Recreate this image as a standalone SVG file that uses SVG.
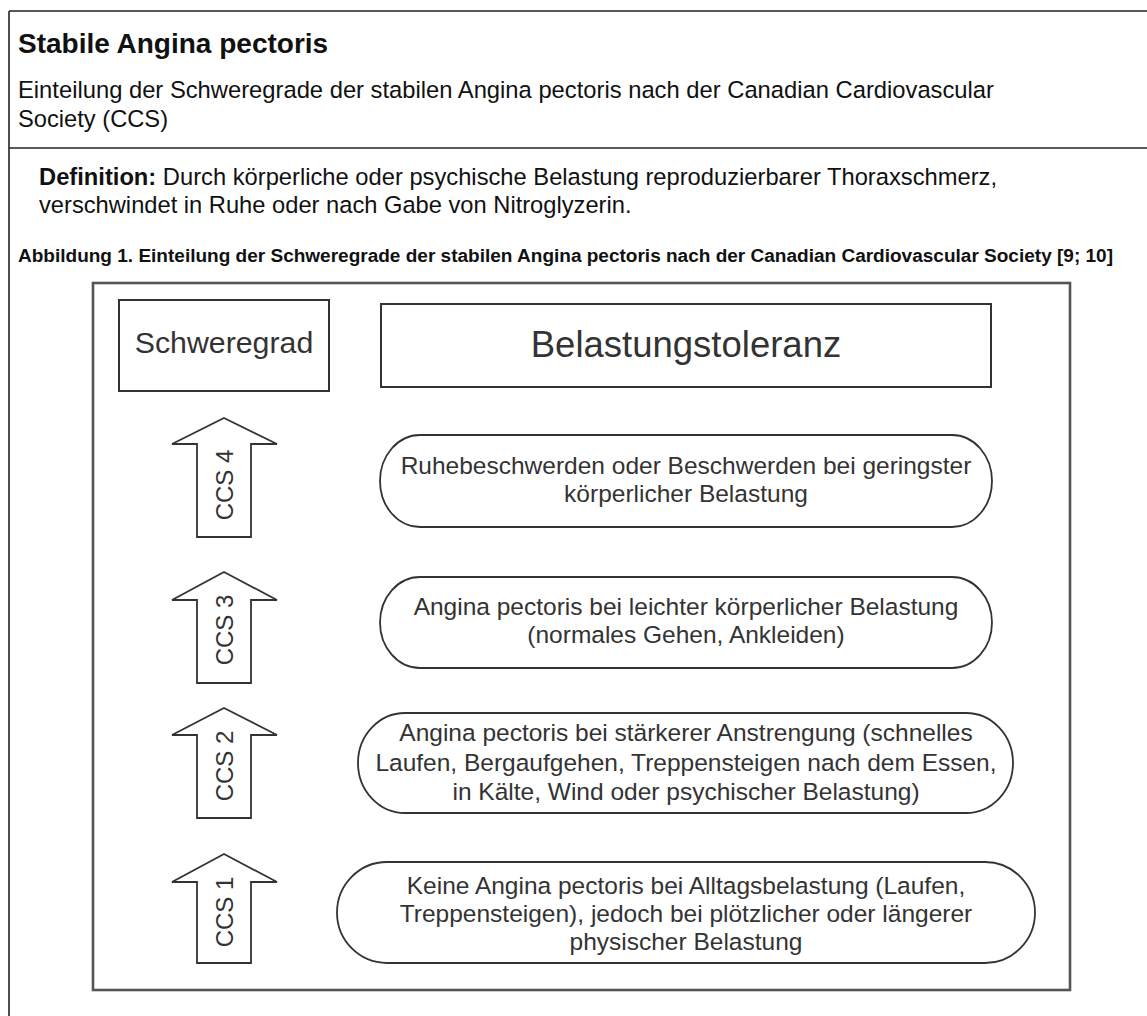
<svg xmlns="http://www.w3.org/2000/svg" width="1147" height="1016" viewBox="0 0 1147 1016">
<style>
text{font-family:"Liberation Sans",Arial,sans-serif}
.frame{fill:none;stroke:#222;stroke-width:1.6}
.t-title{font-size:28px;font-weight:bold;fill:#111}
.t-body{font-size:23.7px;fill:#111}
.t-cap{font-size:18px;font-weight:bold;fill:#111}
.inner{fill:none;stroke:#555;stroke-width:2.6}
.hdr{fill:#fff;stroke:#333;stroke-width:2}
.pill{fill:#fff;stroke:#333;stroke-width:1.8}
.arrow{fill:#fff;stroke:#333;stroke-width:1.8;stroke-linejoin:miter}
.lbl{font-size:24.5px;fill:#333;text-anchor:middle}
.ccs{font-size:24px;fill:#333;text-anchor:middle}
</style>
<rect width="1147" height="1016" fill="#fff"/>
<g id="page-frame">
<line class="frame" x1="9" y1="11" x2="1147" y2="11"/>
<line class="frame" x1="9" y1="11" x2="9" y2="1016"/>
<line class="frame" x1="9" y1="148" x2="1147" y2="148"/>
</g>
<g id="header-text">
<text class="t-title" x="18" y="53">Stabile Angina pectoris</text>
<text class="t-body" x="18" y="98" textLength="976" lengthAdjust="spacingAndGlyphs">Einteilung der Schweregrade der stabilen Angina pectoris nach der Canadian Cardiovascular</text>
<text class="t-body" x="18" y="127">Society (CCS)</text>
<text class="t-body" x="39" y="185" textLength="958" lengthAdjust="spacingAndGlyphs"><tspan font-weight="bold">Definition:</tspan> Durch körperliche oder psychische Belastung reproduzierbarer Thoraxschmerz,</text>
<text class="t-body" x="39" y="213">verschwindet in Ruhe oder nach Gabe von Nitroglyzerin.</text>
<text class="t-cap" x="18" y="262" textLength="1095" lengthAdjust="spacingAndGlyphs">Abbildung 1. Einteilung der Schweregrade der stabilen Angina pectoris nach der Canadian Cardiovascular Society [9; 10]</text>
</g>
<g id="figure-frame">
<rect class="inner" x="93" y="283" width="977" height="707"/>
</g>
<g id="schweregrad">
<rect class="hdr" x="119" y="300" width="210" height="91"/>
<text x="224" y="353" font-size="30.3px" fill="#333" text-anchor="middle">Schweregrad</text>
</g>
<g id="belastungstoleranz">
<rect class="hdr" x="381" y="304" width="610" height="83"/>
<text x="686" y="357" font-size="36.5px" fill="#333" text-anchor="middle">Belastungstoleranz</text>
</g>
<g id="ccs4">
<polygon class="arrow" points="224,418 277,444 251,444 251,537 197,537 197,444 172,444"/>
<text class="ccs" transform="translate(233,485) rotate(-90)">CCS 4</text>
</g>
<g id="ccs3">
<polygon class="arrow" points="224,572 277,600 251,600 251,683 197,683 197,600 172,600"/>
<text class="ccs" transform="translate(233,630) rotate(-90)">CCS 3</text>
</g>
<g id="ccs2">
<polygon class="arrow" points="224,708 277,735 251,735 251,818 197,818 197,735 172,735"/>
<text class="ccs" transform="translate(233,766) rotate(-90)">CCS 2</text>
</g>
<g id="ccs1">
<polygon class="arrow" points="224,854 277,882 251,882 251,963 197,963 197,882 172,882"/>
<text class="ccs" transform="translate(233,912) rotate(-90)">CCS 1</text>
</g>
<g id="tol4">
<rect class="pill" x="380" y="435" width="612" height="92" rx="40" ry="46"/>
<text class="lbl" x="686" y="474">Ruhebeschwerden oder Beschwerden bei geringster</text>
<text class="lbl" x="686" y="502">körperlicher Belastung</text>
</g>
<g id="tol3">
<rect class="pill" x="380" y="577" width="612" height="91" rx="40" ry="45.5"/>
<text class="lbl" x="686" y="615">Angina pectoris bei leichter körperlicher Belastung</text>
<text class="lbl" x="686" y="643">(normales Gehen, Ankleiden)</text>
</g>
<g id="tol2">
<rect class="pill" x="358" y="713" width="655" height="100" rx="47" ry="50"/>
<text class="lbl" x="686" y="741">Angina pectoris bei stärkerer Anstrengung (schnelles</text>
<text class="lbl" x="686" y="771">Laufen, Bergaufgehen, Treppensteigen nach dem Essen,</text>
<text class="lbl" x="686" y="800">in Kälte, Wind oder psychischer Belastung)</text>
</g>
<g id="tol1">
<rect class="pill" x="337" y="862" width="698" height="101" rx="50" ry="50.5"/>
<text class="lbl" x="686" y="894">Keine Angina pectoris bei Alltagsbelastung (Laufen,</text>
<text class="lbl" x="686" y="922">Treppensteigen), jedoch bei plötzlicher oder längerer</text>
<text class="lbl" x="686" y="950">physischer Belastung</text>
</g>
<g id="connectors"></g>
</svg>
